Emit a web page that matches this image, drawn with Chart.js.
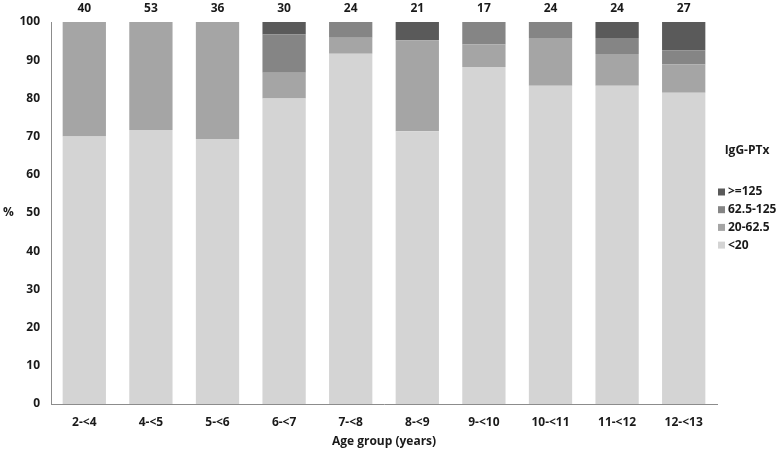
<!DOCTYPE html>
<html>
<head>
<meta charset="utf-8">
<script src="https://cdn.jsdelivr.net/npm/chart.js@4.4.1/dist/chart.umd.min.js"></script>
<style>
  html, body { margin: 0; padding: 0; background: #fff; }
  #wrap { width: 780px; height: 451px; }
</style>
</head>
<body>
<div id="wrap"><canvas id="myChart" width="780" height="451"></canvas></div>
<script>
// Datos (porcentaje por grupo de edad)
const ageGroups = ['2-<4', '4-<5', '5-<6', '6-<7', '7-<8', '8-<9', '9-<10', '10-<11', '11-<12', '12-<13']
const counts = [40, 53, 36, 30, 24, 21, 17, 24, 24, 27]
const below20 = [70.0, 71.7, 69.4, 80.0, 91.7, 71.4, 88.2, 83.3, 83.3, 81.5]
const from20to62 = [30.0, 28.3, 30.6, 6.7, 4.2, 23.8, 5.9, 12.5, 8.3, 7.4]
const from62to125 = [0, 0, 0, 10.0, 4.2, 0, 5.9, 4.2, 4.2, 3.7]
const above125 = [0, 0, 0, 3.3, 0, 4.8, 0, 0, 4.2, 7.4]
const yTicks = [0, 10, 20, 30, 40, 50, 60, 70, 80, 90, 100]

const FONT = '"Open Sans", "DejaVu Sans", sans-serif'
const TEXT = '#1a1a1a'

// Etiquetas extra: n encima de cada barra, leyenda, títulos de ejes
const extrasPlugin = {
    id: 'extras',
    afterDraw(chart) {
        const { ctx, chartArea, scales } = chart
        ctx.save()
        ctx.fillStyle = TEXT
        ctx.font = 'bold 12px ' + FONT
        ctx.textAlign = 'center'
        ctx.textBaseline = 'middle'
        counts.forEach((n, i) => {
            ctx.fillText(String(n), scales.x.getPixelForValue(i), chartArea.top - 13)
        })

        ctx.fillText('Age group (years)', (chartArea.left + chartArea.right) / 2, 442)
        ctx.textAlign = 'left'
        ctx.fillText('%', 3, 213)

        // leyenda
        ctx.textAlign = 'center'
        ctx.fillText('IgG-PTx', 747, 151)
        ctx.textAlign = 'left'
        const items = chart.data.datasets.slice().reverse()
        items.forEach((ds, k) => {
            const y = 192 + k * 17.7
            ctx.fillStyle = ds.backgroundColor
            ctx.fillRect(718, y - 3.5, 7, 7)
            ctx.fillStyle = TEXT
            ctx.fillText(ds.label, 728, y)
        })
        ctx.restore()
    }
}

const ctx = document.getElementById('myChart').getContext('2d')
const myChart = new Chart(ctx, {
    type: 'bar',
    data: {
        labels: ageGroups,
        datasets: [
            { label: '<20', data: below20, backgroundColor: '#d4d4d4' },
            { label: '20-62.5', data: from20to62, backgroundColor: '#a5a5a5' },
            { label: '62.5-125', data: from62to125, backgroundColor: '#858585' },
            { label: '>=125', data: above125, backgroundColor: '#5a5a5a' }
        ]
    },
    options: {
        responsive: false,
        animation: false,
        layout: {
            padding: { top: 22, right: 63, left: 0, bottom: 0 }
        },
        datasets: {
            bar: { barPercentage: 0.65, categoryPercentage: 1, borderWidth: 0 }
        },
        scales: {
            x: {
                stacked: true,
                grid: { display: false, drawTicks: false },
                border: { display: true, color: '#8c8c8c', width: 1 },
                ticks: {
                    color: TEXT,
                    font: { family: FONT, size: 12, weight: 'bold' },
                    padding: 11,
                    maxRotation: 0
                },
                afterFit: scale => { scale.height = 47 }
            },
            y: {
                stacked: true,
                min: 0,
                max: 100,
                grid: { display: false, drawTicks: false },
                border: { display: true, color: '#8c8c8c', width: 1 },
                afterBuildTicks: scale => { scale.ticks = yTicks.map(v => ({ value: v })) },
                ticks: {
                    color: TEXT,
                    font: { family: FONT, size: 12, weight: 'bold' },
                    padding: 11
                },
                afterFit: scale => { scale.width = 51 }
            }
        },
        plugins: {
            legend: { display: false },
            tooltip: { enabled: false },
            title: { display: false }
        }
    },
    plugins: [extrasPlugin]
})
</script>
</body>
</html>
